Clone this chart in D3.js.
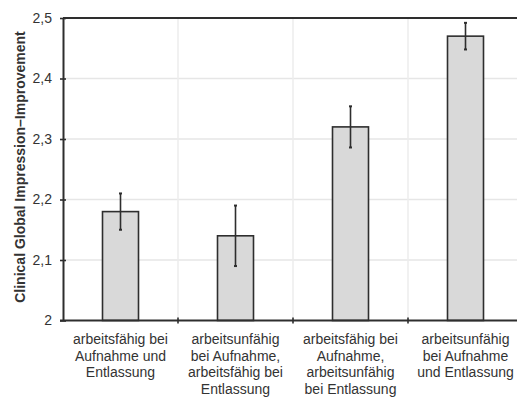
<!DOCTYPE html>
<html>
<head>
<meta charset="utf-8">
<script src="https://cdn.jsdelivr.net/npm/d3@7"></script>
<style>
  html, body { margin: 0; padding: 0; background: #fff; }
  svg { display: block; font-family: "Liberation Sans", Arial, sans-serif; }
</style>
</head>
<body>
<svg id="chart" width="517" height="397"></svg>
<script>
// Patient groups by ability to work at admission and discharge
const categories = [
  ["arbeitsfähig bei", "Aufnahme und", "Entlassung"],
  ["arbeitsunfähig", "bei Aufnahme,", "arbeitsfähig bei", "Entlassung"],
  ["arbeitsfähig bei", "Aufnahme,", "arbeitsunfähig", "bei Entlassung"],
  ["arbeitsunfähig", "bei Aufnahme", "und Entlassung"]
];
const means = [2.18, 2.14, 2.32, 2.47];
const errors = [0.03, 0.05, 0.034, 0.022];
const yTicks = [2, 2.1, 2.2, 2.3, 2.4, 2.5];
const yTickLabels = ["2", "2,1", "2,2", "2,3", "2,4", "2,5"];
const yTitle = "Clinical Global Impression–Improvement";

const svg = d3.select("#chart");
const plotLeft = 63, plotTop = 18, plotBottom = 320.5, bandW = 115;
const ink = "#2e2e2e";

const x = d3.scaleBand()
  .domain(d3.range(categories.length))
  .range([plotLeft, plotLeft + bandW * categories.length])
  .paddingInner(0.687).paddingOuter(0.3435);
const y = d3.scaleLinear().domain([2, 2.5]).range([plotBottom, plotTop]);

// grid
const grid = svg.append("g");
grid.selectAll("line.h").data(yTicks.slice(1, -1)).join("line")
  .attr("x1", plotLeft).attr("x2", 517)
  .attr("y1", d => y(d)).attr("y2", d => y(d))
  .attr("stroke", "#e6e6e6").attr("stroke-width", 1.5);
const bounds = d3.range(1, categories.length + 1).map(i => plotLeft + bandW * i);
grid.selectAll("line.v").data(bounds).join("line")
  .attr("x1", d => d).attr("x2", d => d)
  .attr("y1", plotTop).attr("y2", plotBottom)
  .attr("stroke", "#ececec").attr("stroke-width", 1.5);

// bars
svg.append("g").selectAll("rect").data(means).join("rect")
  .attr("x", (d, i) => x(i))
  .attr("width", x.bandwidth())
  .attr("y", d => y(d))
  .attr("height", d => y(2) - y(d))
  .attr("fill", "#d9d9d9").attr("stroke", ink).attr("stroke-width", 1.6);

// error bars
const eb = svg.append("g").attr("stroke", ink).attr("stroke-width", 1.6);
means.forEach((m, i) => {
  const cx = x(i) + x.bandwidth() / 2;
  eb.append("line").attr("x1", cx).attr("x2", cx)
    .attr("y1", y(m + errors[i])).attr("y2", y(m - errors[i]));
  [m + errors[i], m - errors[i]].forEach(v => {
    eb.append("line").attr("x1", cx - 1.5).attr("x2", cx + 1.5)
      .attr("y1", y(v)).attr("y2", y(v)).attr("stroke-width", 2);
  });
});

// y axis
const yAxis = d3.axisLeft(y).tickValues(yTicks)
  .tickFormat((d, i) => yTickLabels[i]).tickSizeInner(3).tickSizeOuter(0).tickPadding(8);
const gy = svg.append("g").attr("transform", `translate(${plotLeft},0)`).call(yAxis);
gy.select(".domain").attr("stroke", ink).attr("stroke-width", 2);
gy.selectAll(".tick line").attr("stroke", ink).attr("stroke-width", 1.6).attr("x2", 3).attr("x1", -3);
gy.selectAll(".tick text").attr("fill", "#333").attr("font-size", 14);

// x axis line and boundary ticks
svg.append("line").attr("x1", plotLeft - 3).attr("x2", 517)
  .attr("y1", plotBottom).attr("y2", plotBottom).attr("stroke", ink).attr("stroke-width", 2);
svg.append("g").selectAll("line").data(bounds).join("line")
  .attr("x1", d => d).attr("x2", d => d)
  .attr("y1", plotBottom - 3).attr("y2", plotBottom + 3)
  .attr("stroke", ink).attr("stroke-width", 1.6);

// top frame line
svg.append("line").attr("x1", plotLeft).attr("x2", 517)
  .attr("y1", plotTop).attr("y2", plotTop).attr("stroke", ink).attr("stroke-width", 2);

// category labels
const lab = svg.append("g").attr("fill", "#333").attr("font-size", 14).attr("text-anchor", "middle");
categories.forEach((lines, i) => {
  const cx = x(i) + x.bandwidth() / 2;
  const t = lab.append("text").attr("x", cx).attr("y", 344);
  lines.forEach((l, j) => t.append("tspan").attr("x", cx).attr("dy", j ? 16.5 : 0).text(l));
});

// y title
svg.append("text")
  .attr("transform", "translate(25,167) rotate(-90)")
  .attr("text-anchor", "middle")
  .attr("font-size", 14).attr("font-weight", "bold").attr("fill", "#333")
  .text(yTitle);
</script>
</body>
</html>
